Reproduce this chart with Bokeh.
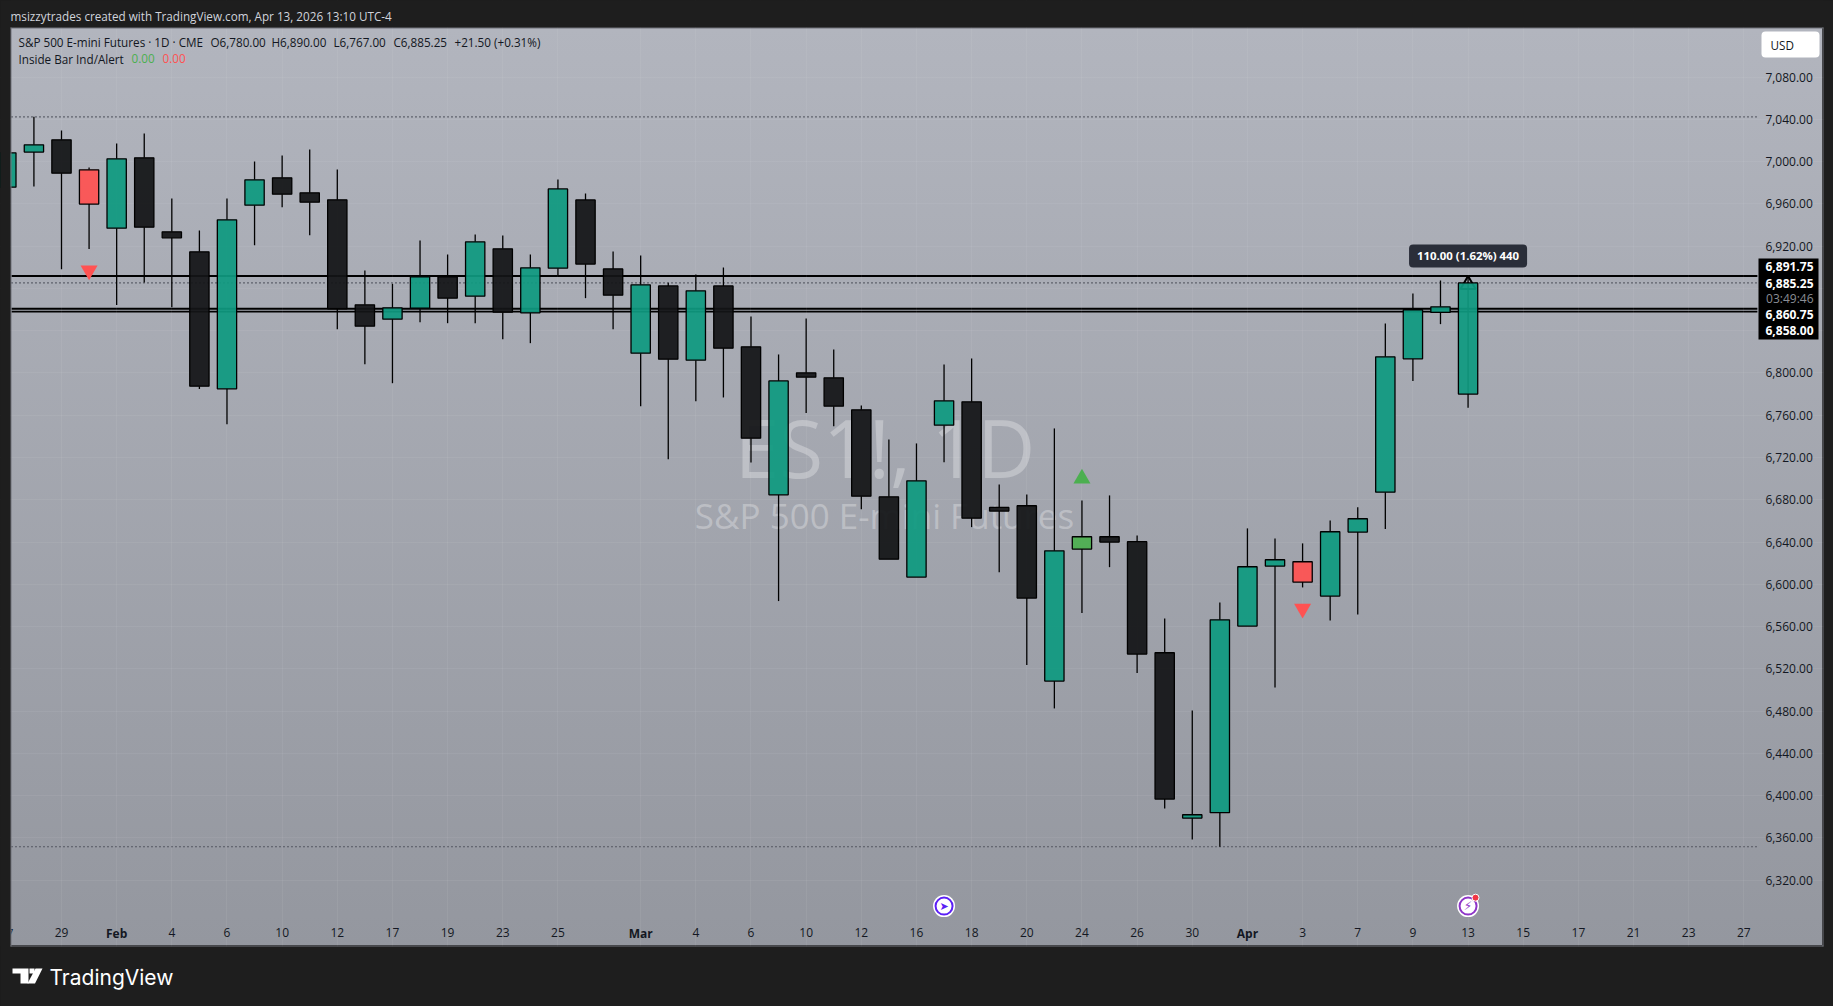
from bokeh.plotting import figure
from bokeh.models import (Range1d, FixedTicker, LinearAxis, NumeralTickFormatter, Label, Grid,
                          BoxAnnotation, PolyAnnotation, GlobalInlineStyleSheet)
from bokeh.core.properties import value
from bokeh.embed import file_html
from bokeh.resources import INLINE

# ---------- data (daily bars, 0 = leftmost, cut off by the pane) ----------
opens = [6975.8, 7009.0, 7020.6, 6992.2, 6937.0, 7003.6, 6933.6, 6914.6, 6785.0, 6958.8,
         6984.7, 6970.5, 6963.9, 6864.5, 6850.9, 6861.3, 6891.0, 6872.7, 6917.5, 6856.9,
         6899.2, 6963.8, 6898.5, 6818.7, 6882.4, 6812.1, 6882.4, 6824.7, 6684.7, 6800.1,
         6795.4, 6765.1, 6682.8, 6606.8, 6750.6, 6772.7, 6672.7, 6674.3, 6508.4, 6633.3,
         6645.0, 6640.3, 6535.2, 6378.7, 6383.8, 6560.4, 6617.2, 6621.3, 6588.8, 6649.4,
         6687.2, 6813.4, 6857.3, 6780.0]
highs = [7020.0, 7042.4, 7029.5, 6994.4, 7017.2, 7026.6, 6965.1, 6934.8, 6965.1, 7000.1,
         7005.8, 7011.5, 6992.6, 6897.0, 6884.4, 6925.4, 6912.1, 6931.0, 6930.1, 6912.1,
         6983.1, 6969.8, 6915.0, 6911.2, 6885.3, 6893.2, 6899.8, 6853.4, 6817.5, 6851.5,
         6822.2, 6769.2, 6737.0, 6733.3, 6808.0, 6813.7, 6694.5, 6685.0, 6747.5, 6679.3,
         6684.1, 6646.2, 6567.7, 6480.6, 6582.8, 6652.9, 6643.4, 6638.7, 6660.4, 6672.8,
         6846.8, 6875.2, 6887.5, 6890.0]
lows = [6965.0, 6976.5, 6898.2, 6917.2, 6864.2, 6885.6, 6862.3, 6784.7, 6751.5, 6920.9,
        6956.9, 6930.4, 6841.4, 6808.3, 6790.3, 6848.1, 6847.1, 6847.1, 6832.0, 6828.2,
        6892.2, 6870.8, 6841.4, 6768.6, 6718.4, 6773.3, 6776.8, 6715.2, 6584.1, 6762.0,
        6749.6, 6671.1, 6623.8, 6606.8, 6715.6, 6654.1, 6611.5, 6523.5, 6482.5, 6572.7,
        6616.2, 6516.0, 6387.9, 6358.5, 6351.6, 6560.4, 6502.4, 6597.0, 6565.8, 6571.5,
        6652.2, 6792.3, 6846.2, 6767.0]
closes = [7008.3, 7015.9, 6989.1, 6959.8, 7002.7, 6938.0, 6927.9, 6787.5, 6944.9, 6982.8,
          6969.2, 6961.6, 6860.7, 6844.3, 6861.6, 6891.0, 6870.8, 6924.1, 6857.5, 6899.5,
          6974.2, 6903.0, 6873.6, 6883.4, 6813.0, 6877.7, 6823.5, 6738.3, 6792.5, 6796.0,
          6768.6, 6683.4, 6623.8, 6697.9, 6773.6, 6662.6, 6669.3, 6586.9, 6631.7, 6645.0,
          6639.9, 6533.9, 6396.7, 6381.9, 6566.4, 6616.6, 6623.2, 6602.1, 6649.7, 6662.0,
          6815.3, 6859.8, 6862.6, 6885.25]
inside_bar_down = [3, 47]
inside_bar_up = [39]
signal_down_bars = [3, 47]
signal_down_prices = [6897.0, 6577.0]
signal_up_bars = [39]
signal_up_prices = [6700.0]

price_ticks = [6320, 6360, 6400, 6440, 6480, 6520, 6560, 6600, 6640, 6680, 6720, 6760, 6800,
               6840, 6880, 6920, 6960, 7000, 7040, 7080]
hidden_price_ticks = [6840, 6880]  # covered by the black price tags in the reference
day_ticks = [2, 6, 8, 10, 12, 14, 16, 18, 20, 25, 27, 29, 31, 33, 35, 37, 39, 41, 43, 47, 49, 51,
             53, 55, 57, 59, 61, 63]
day_labels = ["29", "4", "6", "10", "12", "17", "19", "23", "25", "4", "6", "10", "12", "16", "18",
              "20", "24", "26", "30", "3", "7", "9", "13", "15", "17", "21", "23", "27"]
month_ticks = [4, 23, 45]
month_labels = ["Feb", "Mar", "Apr"]
level_solid = [6891.75, 6860.75, 6858.0]
level_dotted = [7042.3, 6885.25, 6351.6]
event_bars = [34, 53]

TEAL, BLACK, RED, GREEN = "#0f9a80", "#131417", "#FF5252", "#4CAF50"
INK = "#131722"
DARK = "#1e1e1e"
EDGE = "#70737a"
FONT = "Open Sans"
W, H = 1833, 1006
PANE_L, PANE_R = 0.187, 63.49     # pane extent in bar units

p = figure(width=W, height=H, output_backend="svg", toolbar_location=None,
           x_axis_type=None, y_axis_type=None,
           x_range=Range1d(-0.2117, 66.25), y_range=Range1d(6200.4, 7152.5),
           min_border=0, min_border_left=0, min_border_right=0, min_border_top=0, min_border_bottom=0,
           background_fill_alpha=0, border_fill_alpha=0, outline_line_alpha=0)
p.styles = {"background": f"linear-gradient(#b2b5be,#94979f) 11px 28px/1811px 917px no-repeat,{DARK}"}
p.stylesheets = [GlobalInlineStyleSheet(css=f"html,body{{margin:0;padding:0;background:{DARK};overflow:hidden}}")]

# axes
def style_axis(a, weight="normal"):
    a.axis_line_color = None
    a.major_tick_line_color = None
    a.minor_tick_line_color = None
    a.major_label_text_font = FONT
    a.major_label_text_font_size = "12px"
    a.major_label_text_font_style = weight
    a.major_label_text_color = INK
    return a

X_AXIS_AT = 6281.8
xa = style_axis(LinearAxis(ticker=FixedTicker(ticks=day_ticks), fixed_location=X_AXIS_AT,
                           major_label_overrides={t: s for t, s in zip(day_ticks, day_labels)}))
xm = style_axis(LinearAxis(ticker=FixedTicker(ticks=month_ticks), fixed_location=X_AXIS_AT,
                           major_label_overrides={t: s for t, s in zip(month_ticks, month_labels)}), "bold")
ya = style_axis(LinearAxis(ticker=FixedTicker(ticks=[t for t in price_ticks if t not in hidden_price_ticks]),
                           formatter=NumeralTickFormatter(format="0,0.00"), fixed_location=PANE_R))
xa.major_label_standoff = 2
xm.major_label_standoff = -1
ya.major_label_standoff = 2
p.add_layout(xa, "below")
p.add_layout(xm, "below")
p.add_layout(ya, "right")

p.xgrid.visible = False
p.ygrid.visible = False
p.add_layout(Grid(dimension=0, ticker=FixedTicker(ticks=sorted(day_ticks + month_ticks)),
                  grid_line_color="#ffffff", grid_line_alpha=0.06))
p.add_layout(Grid(dimension=1, ticker=FixedTicker(ticks=price_ticks),
                  grid_line_color="#ffffff", grid_line_alpha=0.06))

def lbl(text, x, y, size=12, color=INK, align="left", weight="normal", level="annotation",
        alpha=1.0, font=FONT, **kw):
    l = Label(text=text, x=x, y=y, x_units="canvas", y_units="canvas", text_font=font,
              text_font_size=f"{size}px", text_color=color, text_align=align,
              text_baseline="middle", text_font_style=weight, level=level, text_alpha=alpha, **kw)
    p.add_layout(l)
    return l

def box(l, r, t, b, color, level="guide", **kw):
    p.add_layout(BoxAnnotation(left=l, right=r, top=t, bottom=b, left_units="canvas",
                               right_units="canvas", top_units="canvas", bottom_units="canvas",
                               fill_color=color, fill_alpha=1, line_color=None, level=level, **kw))

# watermark
lbl("ES1!, 1D", 884.5, 446, size=80, color="#ffffff", align="center", level="underlay", alpha=0.29)
lbl("S&P 500 E-mini Futures", 884, 515, size=35, color="#ffffff", align="center", level="underlay", alpha=0.29)

# day label cut off by the pane edge (the surround below paints over its left part)
lbl("7", 6, 932.5, align="left", level="underlay")

# horizontal levels
p.segment([PANE_L] * 3, level_dotted, [PANE_R] * 3, level_dotted, line_color=INK, line_width=1.2,
          line_dash="1 3", level="underlay")
p.segment([PANE_L] * 3, level_solid, [PANE_R] * 3, level_solid, line_color="#000000", line_width=1.8,
          level="underlay")

# candles
n = len(opens)
idx = list(range(n))
tops = [max(o, c) for o, c in zip(opens, closes)]
bots = [min(o, c) for o, c in zip(opens, closes)]
cols = []
for i in idx:
    if i in inside_bar_down:
        cols.append(RED)
    elif i in inside_bar_up:
        cols.append(GREEN)
    else:
        cols.append(TEAL if closes[i] >= opens[i] else BLACK)

p.segment(idx, highs, idx, tops, line_color="#000000", line_width=1.3)
p.segment(idx, bots, idx, lows, line_color="#000000", line_width=1.3)
# current bar: line through the body and high marker
p.segment([idx[-1]], [opens[-1]], [idx[-1]], [closes[-1]], line_color="#000000", line_width=1.3)
p.scatter([idx[-1]], [highs[-1] - 6.5], marker="triangle", size=15, fill_alpha=0,
          line_color="#000000", line_width=2)
p.vbar(x=idx, bottom=bots, top=tops, width=0.70, fill_color=cols, fill_alpha=0.93,
       line_color="#000000", line_width=1.3)

# inside-bar signals
p.scatter(signal_down_bars, signal_down_prices, marker="inverted_triangle", size=17,
          fill_color=RED, line_color=None)
p.scatter(signal_up_bars, signal_up_prices, marker="triangle", size=17,
          fill_color=GREEN, line_color=None)

# event icons on the time scale
EV_Y = 6295.4
p.scatter(event_bars, [EV_Y, EV_Y], marker="circle", size=22, fill_color="#ffffff", line_color=None)
p.scatter(event_bars, [EV_Y, EV_Y], marker="circle", size=17, fill_color="#ffffff",
          line_color=["#5b1ff5", "#8e35c8"], line_width=2)
p.text([event_bars[0]], [EV_Y], text=["➤"], text_color="#5b1ff5", text_font=value("DejaVu Sans"),
       text_font_size="11px", text_align="center", text_baseline="middle")
p.text([event_bars[1]], [EV_Y], text=["⚡"], text_color="#8e35c8", text_font=value("DejaVu Sans"),
       text_font_size="12px", text_align="center", text_baseline="middle")
p.scatter([event_bars[1] + 0.27], [EV_Y + 8], marker="circle", size=7, fill_color="#f23645", line_color="#ffffff")

# dark surround of the pane, painted over the candle that runs off the left edge
box(0, W, 0, 27, DARK)
box(0, W, 946, H, DARK)
box(0, 10, 0, H, DARK)
box(1823, W, 0, H, DARK)
box(10, 1823, 27, 28, EDGE)
box(10, 1823, 945, 946, EDGE)
box(10, 11, 27, 946, EDGE)
box(1822, 1823, 27, 946, EDGE)

# tooltip over the last bar
p.add_layout(Label(text="110.00 (1.62%) 440", x=idx[-1], y=6920 - (255.5 - 245.7) * 0.9464,
                   text_font=FONT, text_font_size="11.4px", text_font_style="bold", text_color="#ffffff",
                   text_align="center", text_baseline="middle", background_fill_color="#2a2e39",
                   padding=(8, 4), border_radius=4))

# price tags
box(1758, 1818, 258, 339, "#000000", level="annotation")
for s, y, c in [("6,891.75", 265.7, "#ffffff"), ("6,885.25", 282.7, "#ffffff"),
                ("03:49:46", 297.5, "#8a8d94"), ("6,860.75", 313.7, "#ffffff"),
                ("6,858.00", 330.3, "#ffffff")]:
    lbl(s, 1813, y, color=c, align="right", weight="normal" if c != "#ffffff" else "bold")

# USD button
box(1761, 1819, 31, 57, "#ffffff", level="annotation", border_radius=4)
lbl("USD", 1770, 44, align="left", color="#131722", size=11.7)

# headers
lbl("msizzytrades created with TradingView.com, Apr 13, 2026 13:10 UTC-4", 10, 15, color="#d1d4dc", size=11.7)
lbl("S&P 500 E-mini Futures · 1D · CME", 18, 41, size=11.7)
for s, x in [("O6,780.00", 210), ("H6,890.00", 271), ("L6,767.00", 333), ("C6,885.25", 393),
             ("+21.50 (+0.31%)", 454)]:
    lbl(s, x, 41, size=11.7)
lbl("Inside Bar Ind/Alert", 18, 58, size=11.7)
lbl("0.00", 131, 58, color=GREEN, size=11.7)
lbl("0.00", 162, 58, color=RED, size=11.7)

# footer logo
lbl("TradingView", 49, 977, size=21, color="#ffffff", weight="normal", font="Inter")
for xs, ys in [([12, 28, 28, 20, 20, 12], [968, 968, 983, 983, 973, 973]),
               ([29, 34, 34, 29], [968, 968, 973, 973]),
               ([35, 42, 34.5, 27], [968, 968, 983, 983])]:
    p.add_layout(PolyAnnotation(xs=xs, ys=ys, xs_units="canvas", ys_units="canvas",
                                fill_color="#ffffff", fill_alpha=1, line_color=None))

open("out.html", "w").write(file_html(p, INLINE))
